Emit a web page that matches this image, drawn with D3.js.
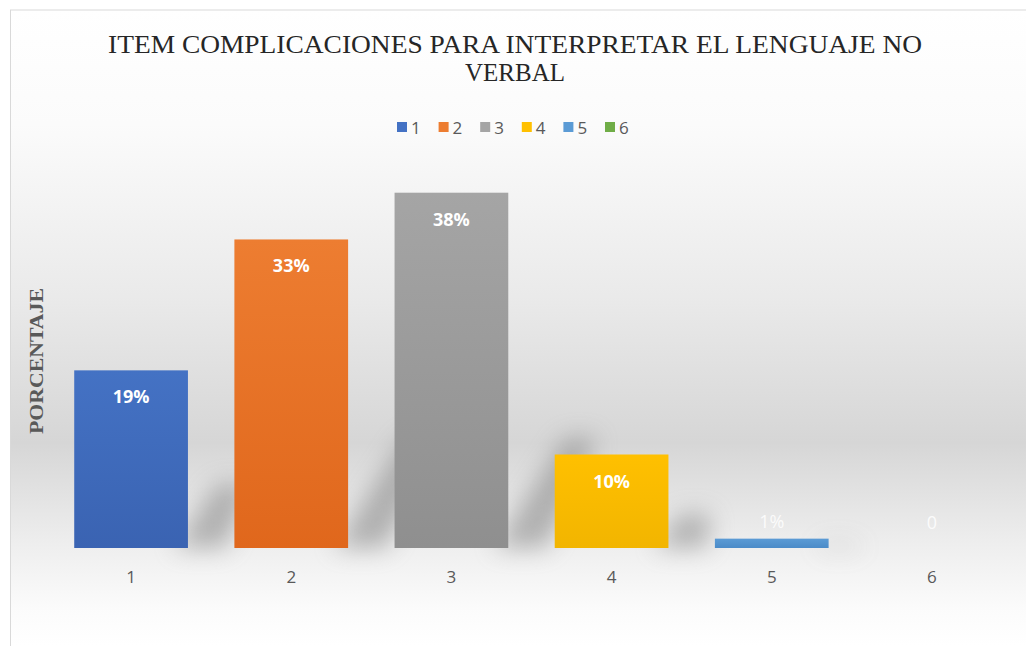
<!DOCTYPE html>
<html>
<head>
<meta charset="utf-8">
<script src="https://cdn.jsdelivr.net/npm/d3@7"></script>
<style>
  html, body { margin: 0; padding: 0; background: #fff; }
  svg { display: block; }
</style>
</head>
<body>
<div id="chart"></div>
<script>
/* Column chart: item "complicaciones para interpretar el lenguaje no verbal".
   Office-style look: soft gray backdrop band, gradient bars, slanted shadows. */
const categories = ['1', '2', '3', '4', '5', '6'];
const values = [19, 33, 38, 10, 1, 0];
const valueLabels = ['19%', '33%', '38%', '10%', '1%', '0'];
const colors = ['#4472C4', '#ED7D31', '#A5A5A5', '#FFC000', '#5B9BD5', '#70AD47'];
const darker = ['#3A63B2', '#E0671C', '#8F8F8F', '#F2B500', '#4B8BC8', '#5E9A3A'];
const titleLines = ['ITEM COMPLICACIONES PARA INTERPRETAR EL LENGUAJE NO', 'VERBAL'];
const yTitle = 'PORCENTAJE';

const W = 1026, H = 646;
const margin = { top: 174, right: 14, bottom: 98, left: 51 };

const svg = d3.select('#chart').append('svg').attr('width', W).attr('height', H);
const defs = svg.append('defs');

// backdrop gradient
const bg = defs.append('linearGradient').attr('id', 'bg').attr('x1', 0).attr('y1', 0).attr('x2', 0).attr('y2', 1);
[[0, '#ffffff'], [0.18, '#fbfbfb'], [0.45, '#eaeaea'], [0.68, '#d6d6d6'], [0.84, '#eeeeee'], [0.94, '#fbfbfb'], [1, '#ffffff']]
  .forEach(([o, c]) => bg.append('stop').attr('offset', o).attr('stop-color', c));

colors.forEach((c, i) => {
  const g = defs.append('linearGradient').attr('id', 'bar' + i).attr('x1', 0).attr('y1', 0).attr('x2', 0).attr('y2', 1);
  g.append('stop').attr('offset', 0).attr('stop-color', c);
  g.append('stop').attr('offset', 1).attr('stop-color', darker[i]);
});

defs.append('filter').attr('id', 'blur').attr('x', '-50%').attr('y', '-50%').attr('width', '200%').attr('height', '200%')
  .append('feGaussianBlur').attr('stdDeviation', 12);

svg.append('rect').attr('x', 10).attr('y', 10).attr('width', W - 10).attr('height', H - 10).attr('fill', 'url(#bg)');
// frame edges
svg.append('line').attr('x1', 10).attr('x2', W).attr('y1', 10).attr('y2', 10).attr('stroke', '#d9d9d9');
svg.append('line').attr('x1', 10.5).attr('x2', 10.5).attr('y1', 10).attr('y2', H).attr('stroke', '#d9d9d9');

const x = d3.scaleBand().domain(categories)
  .range([margin.left, W - margin.right]).paddingInner(0.29).paddingOuter(0.145);
const y = d3.scaleLinear().domain([0, 40]).range([H - margin.bottom, margin.top]);

// slanted shadows behind bars
const shadow = svg.append('g').attr('filter', 'url(#blur)').attr('opacity', 0.5);
categories.forEach((c, i) => {
  if (values[i] <= 0) return;
  const x0 = x(c) + x.bandwidth(), yb = y(0), h = Math.min((y(0) - y(values[i])) * 0.36, 110);
  const d = 'M' + (x0 - 14) + ',' + yb + 'L' + (x0 - 8 + h * 0.6) + ',' + (yb - h) +
    'L' + (x0 + 22 + h * 0.6) + ',' + (yb - h) + 'L' + (x0 + 38) + ',' + yb + 'Z';
  shadow.append('path').attr('d', d).attr('fill', '#777777');
});

svg.append('g').selectAll('rect').data(values).join('rect')
  .attr('x', (d, i) => x(categories[i]))
  .attr('y', d => y(d))
  .attr('width', x.bandwidth())
  .attr('height', d => y(0) - y(d))
  .attr('fill', (d, i) => 'url(#bar' + i + ')');

// value labels: inside the top for tall bars, above for tiny ones
svg.append('g').selectAll('text').data(values).join('text')
  .attr('x', (d, i) => x(categories[i]) + x.bandwidth() / 2)
  .attr('y', d => d >= 5 ? y(d) + 33 : Math.min(y(d) - 11, y(0) - 19))
  .attr('text-anchor', 'middle')
  .attr('fill', d => d >= 5 ? '#ffffff' : 'rgba(255,255,255,0.85)')
  .style('font-family', 'Open Sans, sans-serif')
  .style('font-size', '18px')
  .style('font-weight', d => d >= 5 ? 700 : 400)
  .text((d, i) => valueLabels[i]);

// x axis labels
const xAxis = svg.append('g').attr('transform', 'translate(0,' + (H - margin.bottom) + ')')
  .call(d3.axisBottom(x).tickSize(0).tickPadding(23));
xAxis.select('.domain').remove();
xAxis.selectAll('text').attr('fill', '#595959')
  .style('font-family', 'Open Sans, sans-serif').style('font-size', '17px');

// title
svg.append('text').attr('text-anchor', 'middle')
  .attr('fill', '#262626')
  .style('font-family', 'Liberation Serif, serif').style('font-size', '25px')
  .selectAll('tspan').data(titleLines).join('tspan')
  .attr('x', 515).attr('y', (d, i) => 53 + i * 28)
  .attr('textLength', (d, i) => i === 0 ? 814 : null)
  .attr('lengthAdjust', 'spacingAndGlyphs')
  .text(d => d);

// y title
svg.append('text')
  .attr('transform', 'translate(43,' + 361 + ') rotate(-90)')
  .attr('text-anchor', 'middle')
  .attr('fill', '#595959')
  .attr('textLength', 146).attr('lengthAdjust', 'spacingAndGlyphs')
  .style('font-family', 'Liberation Serif, serif').style('font-size', '19px').style('font-weight', 700)
  .text(yTitle);

// legend
const legend = svg.append('g').attr('transform', 'translate(397,127)');
let lx = 0;
categories.forEach((c, i) => {
  const g = legend.append('g').attr('transform', 'translate(' + lx + ',0)');
  g.append('rect').attr('x', 0).attr('y', -5).attr('width', 10).attr('height', 10).attr('fill', colors[i]);
  g.append('text').attr('x', 14).attr('y', 6.5).attr('fill', '#595959')
    .style('font-family', 'Open Sans, sans-serif').style('font-size', '17px').text(c);
  lx += 41.6;
});
</script>
</body>
</html>
